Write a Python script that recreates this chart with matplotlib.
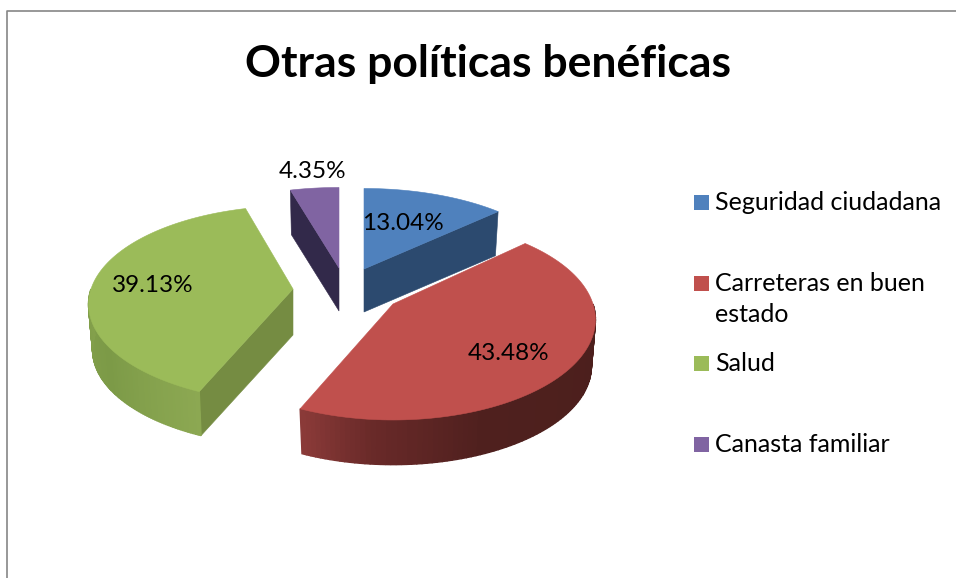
import numpy as np
import matplotlib
matplotlib.use("Agg")
import matplotlib.pyplot as plt
from matplotlib.colors import LinearSegmentedColormap
from matplotlib.patches import Polygon, Rectangle

plt.rcParams['font.family'] = ['Lato', 'DejaVu Sans']

title = 'Otras políticas benéficas'
categories = ['Seguridad ciudadana', 'Carreteras en buen\nestado', 'Salud', 'Canasta familiar']
values = [13.04, 43.48, 39.13, 4.35]
labels = ['13.04%', '43.48%', '39.13%', '4.35%']

top_colors = ['#4f81bd', '#c0504d', '#9bbb59', '#8064a2']
cut_colors = ['#2c4a6f', None, '#758c42', '#32294a']
apex = [(364, 269), (393, 304), (293, 289), (339, 268)]
radius_x = [203, 200, 202, 207]
radius_y = [93, 98, 96, 93]
depth = [43, 47, 46, 43]
label_pos = [(403, 223), (509, 354), (153, 286), (313, 171)]
legend_y = [202, 283, 363, 444]

# projection of the 3d pie, in pixels
PERSP, BOTTOM = 0.155, 0.98

wall_cmaps = [
    None,
    LinearSegmentedColormap.from_list('r', [(0, '#4b1f1c'), (0.6, '#4f201e'), (0.85, '#6a2a29'), (1, '#8a3a38')]),
    LinearSegmentedColormap.from_list('g', ['#8ca852', '#7c9a47', '#83a04b']),
    None,
]


def rim(i, c, theta, scale=1.0, drop=0):
    u, v = np.sin(theta), np.cos(theta)
    s = scale / (1 + PERSP * v)
    return np.column_stack([c[0] + radius_x[i] * u * s, c[1] - radius_y[i] * v * s + drop])


fig = plt.figure(figsize=(9.56, 5.78), dpi=100)
ax = fig.add_axes([0, 0, 1, 1])
ax.set_xlim(0, 956)
ax.set_ylim(578, 0)
ax.axis('off')

# chart frame, only top and left show
ax.plot([7.5, 7.5, 956], [578, 10.5, 10.5], color='#868686', lw=1.2)

edges = np.radians(np.cumsum([0] + values) * 3.6)
slices = [(i, edges[i], edges[i + 1]) for i in range(4)]

# back to front
for i, t0, t1 in [slices[2], slices[3], slices[0], slices[1]]:
    c = apex[i]
    d = depth[i]
    bottom_apex = (c[0], c[1] + d)

    # flat cut faces
    face_t = {0: t1, 2: t0, 3: t0}.get(i)
    if face_t is not None:
        ft = np.array([face_t])
        pts = np.vstack([[c], rim(i, c, ft), rim(i, c, ft, BOTTOM, d), [bottom_apex]])
        ax.add_patch(Polygon(pts, closed=True, fc=cut_colors[i], ec=cut_colors[i], lw=0.4))

    # outer wall, drawn in thin strips for the shading
    if wall_cmaps[i] is not None:
        if i == 1:
            a0, a1 = np.pi / 2, t1
        else:
            a0, a1 = t0, 3 * np.pi / 2
        th = np.linspace(a0, a1, 90)
        for k in range(len(th) - 1):
            seg = th[k:k + 2]
            pts = np.vstack([rim(i, c, seg), rim(i, c, seg[::-1], BOTTOM, d)])
            col = wall_cmaps[i](k / (len(th) - 2))
            ax.add_patch(Polygon(pts, closed=True, fc=col, ec=col, lw=1.0))

    # top face
    th = np.linspace(t0, t1, 120)
    pts = np.vstack([[c], rim(i, c, th)])
    ax.add_patch(Polygon(pts, closed=True, fc=top_colors[i], ec=top_colors[i], lw=0.4))

for txt, (x, y) in zip(labels, label_pos):
    ax.text(x, y, txt, ha='center', va='center', fontsize=17.5, color='black')

for name, col, y in zip(categories, top_colors, legend_y):
    ax.add_patch(Rectangle((694, y - 7), 15, 15, fc=col, ec='none'))
    ax.text(715, y - 11, name, ha='left', va='top', fontsize=18, color='black', linespacing=1.42)

ax.text(488, 64, title, ha='center', va='center', fontsize=32, fontweight='bold', color='black')

fig.savefig('out.png', dpi=100)
